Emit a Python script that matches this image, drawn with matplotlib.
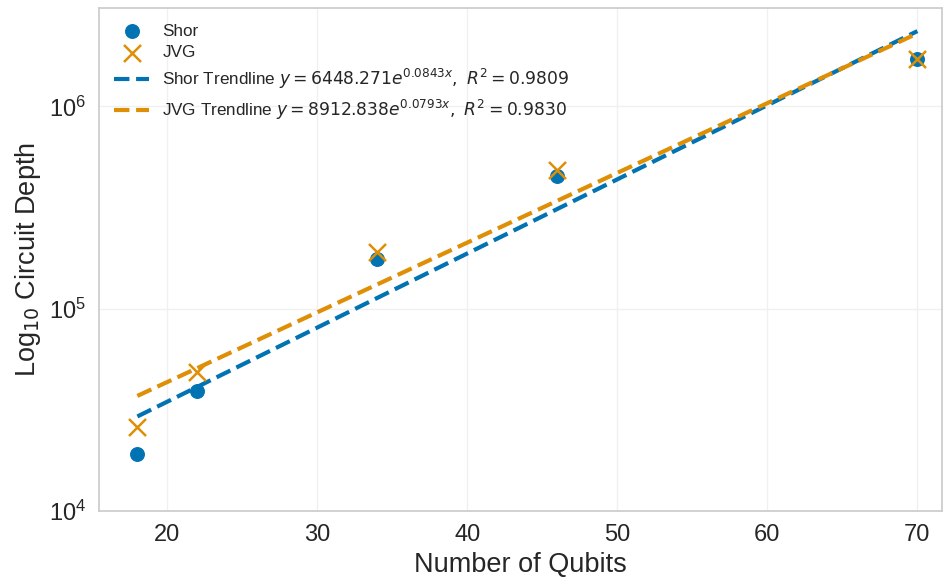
import matplotlib
matplotlib.use("Agg")
import matplotlib.pyplot as plt
import numpy as np
import seaborn as sns

sns.set_theme(style="whitegrid")
plt.rcParams['font.family'] = ['Liberation Sans', 'DejaVu Sans']
colors = sns.color_palette("colorblind")

qubits = [18, 22, 34, 46, 70]
shor_depth = [19100, 39500, 176000, 455000, 1.72e6]
jvg_depth = [26000, 48500, 192000, 485000, 1.72e6]

# fitted trendlines y = a * exp(b x)
shor_fit = (6448.271, 0.0843, 0.9809)
jvg_fit = (8912.838, 0.0793, 0.9830)

fig = plt.figure(figsize=(9.44, 5.81), dpi=100)
ax = fig.add_axes([0.105, 0.12, 0.893, 0.866])

ax.scatter(qubits, shor_depth, color=colors[0], marker="o", s=95, label="Shor", zorder=3)
ax.scatter(qubits, jvg_depth, color=colors[1], marker="x", s=150, linewidths=1.8, label="JVG", zorder=4)

xs = np.linspace(min(qubits), max(qubits), 200)
for (a, b, r2), c, name in [(shor_fit, colors[0], "Shor"), (jvg_fit, colors[1], "JVG")]:
    ax.plot(xs, a * np.exp(b * xs), "--", color=c, lw=3,
            label=f"{name} Trendline $y = {a:.3f}e^{{{b:.4f}x}},\\ R^2 = {r2:.4f}$")

ax.set_yscale("log")
ax.set_ylim(1e4, 3.06e6)
ax.set_xlim(15.45, 71.65)
ax.yaxis.set_minor_locator(matplotlib.ticker.NullLocator())
ax.set_xlabel("Number of Qubits", fontsize=19.5)
ax.set_ylabel("Log$_{10}$ Circuit Depth", fontsize=19.5)
ax.tick_params(labelsize=17)
ax.grid(color="#f0f0f0")
ax.legend(loc="upper left", frameon=False, fontsize=12.3, labelspacing=0.4)

plt.savefig("out.png", dpi=100)
